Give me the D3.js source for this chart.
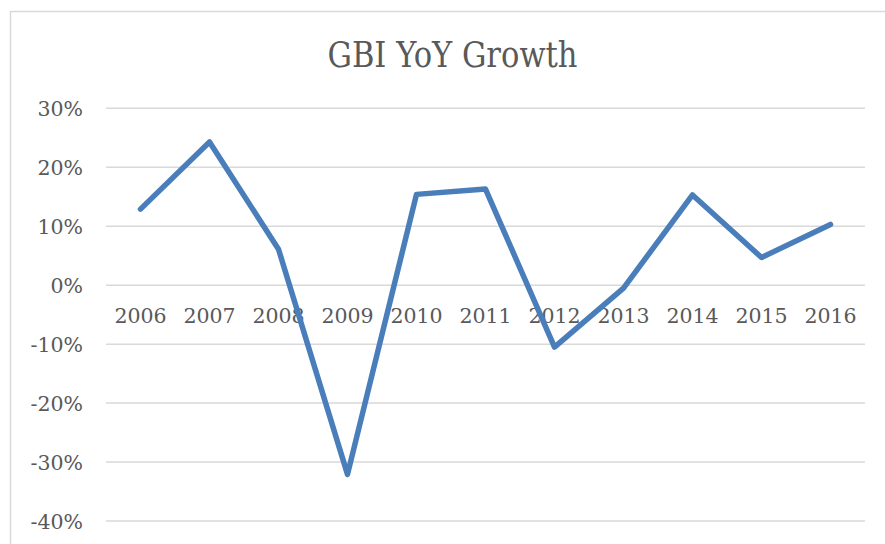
<!DOCTYPE html>
<html>
<head>
<meta charset="utf-8">
<script src="https://cdn.jsdelivr.net/npm/d3@7"></script>
<style>
  body { margin: 0; background: #fff; }
  svg { display: block; }
</style>
</head>
<body>
<svg id="chart" width="885" height="544"></svg>
<script>
const years = ["2006", "2007", "2008", "2009", "2010", "2011", "2012", "2013", "2014", "2015", "2016"];
const growth = [0.129, 0.243, 0.061, -0.321, 0.154, 0.163, -0.105, -0.005, 0.153, 0.047, 0.103];
const yTicks = [-0.4, -0.3, -0.2, -0.1, 0, 0.1, 0.2, 0.3];
const title = "GBI YoY Growth";

const width = 885;
const height = 544;
const margin = { top: 108.3, right: 20, bottom: 23, left: 106 };
const textColor = "#595959";
const gridColor = "#d9d9d9";
const fontFamily = "'DejaVu Serif', serif";

const svg = d3.select("#chart");

// chart frame
svg.append("rect")
    .attr("x", 10.5)
    .attr("y", 11.5)
    .attr("width", width + 20)
    .attr("height", height + 20)
    .attr("fill", "#fff")
    .attr("stroke", gridColor)
    .attr("stroke-width", 1.5);

const x = d3.scaleBand().domain(years).range([106, 865]).padding(0);
const y = d3.scaleLinear().domain([-0.4, 0.3]).range([521, 108.3]);

const locale = d3.formatLocale({ decimal: ".", thousands: ",", grouping: [3], currency: ["", ""], minus: "-" });
const pct = locale.format(".0%");

// gridlines
svg.append("g")
    .selectAll("line")
    .data(yTicks)
    .enter()
    .append("line")
    .attr("x1", 106)
    .attr("x2", 865)
    .attr("y1", d => y(d))
    .attr("y2", d => y(d))
    .attr("stroke", gridColor)
    .attr("stroke-width", 1.5);

// y axis
const yAxis = svg.append("g")
    .attr("transform", "translate(83,0)")
    .call(d3.axisLeft(y).tickValues(yTicks).tickFormat(pct).tickSize(0).tickPadding(0));
yAxis.select(".domain").remove();
yAxis.selectAll("text")
    .attr("fill", textColor)
    .attr("font-family", fontFamily)
    .attr("font-size", "20.5px")
    .attr("dy", "0.36em");

// x axis (labels sit under the zero line)
const xAxis = svg.append("g")
    .attr("transform", `translate(0,${y(0)})`)
    .call(d3.axisBottom(x).tickSize(0).tickPadding(0));
xAxis.select(".domain").remove();
xAxis.selectAll("text")
    .attr("fill", textColor)
    .attr("font-family", fontFamily)
    .attr("font-size", "20.5px")
    .attr("y", 38)
    .attr("dy", 0);

// the series line
const line = d3.line()
    .x((d, i) => x(years[i]) + x.bandwidth() / 2)
    .y(d => y(d));

svg.append("path")
    .datum(growth)
    .attr("d", line)
    .attr("fill", "none")
    .attr("stroke", "#4a7ebb")
    .attr("stroke-width", 5.5)
    .attr("stroke-linejoin", "round")
    .attr("stroke-linecap", "round");

// title
svg.append("text")
    .attr("x", 452.5)
    .attr("y", 66.7)
    .attr("text-anchor", "middle")
    .attr("fill", textColor)
    .attr("font-family", fontFamily)
    .attr("font-size", "35px")
    .attr("textLength", 250)
    .attr("lengthAdjust", "spacingAndGlyphs")
    .text(title);
</script>
</body>
</html>
